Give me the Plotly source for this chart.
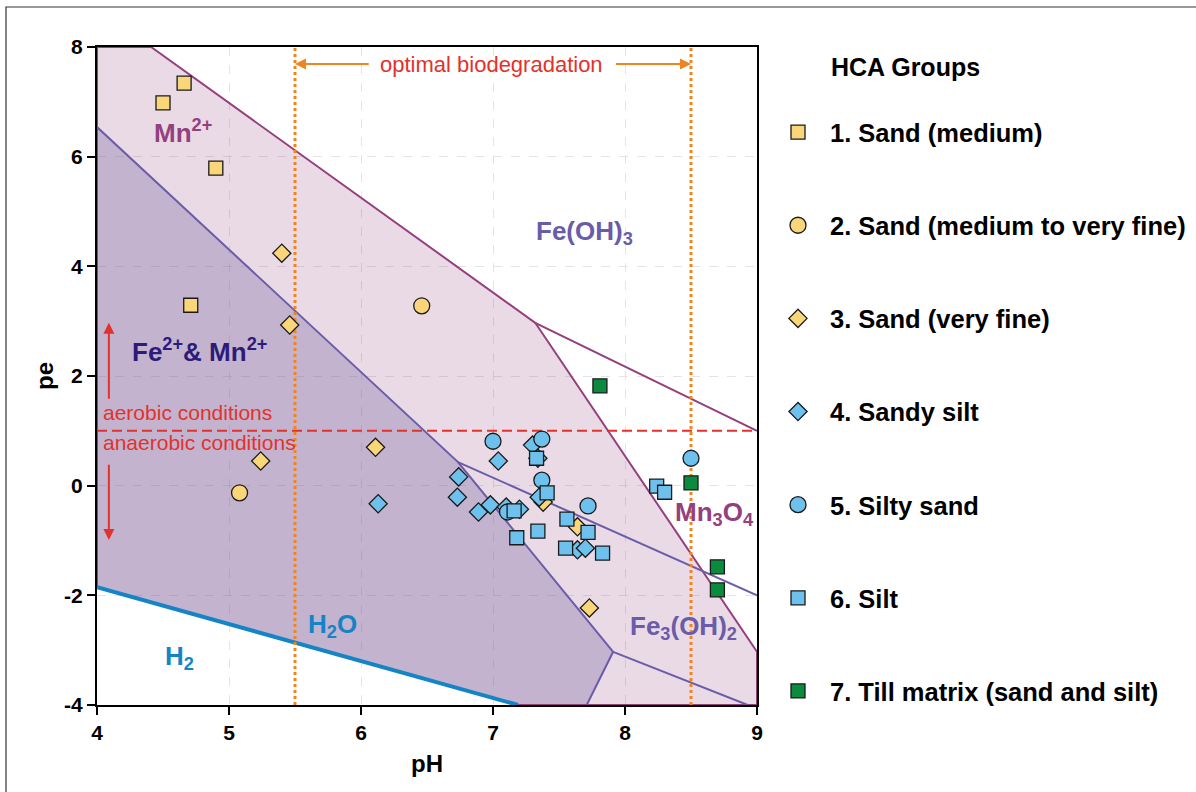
import plotly.graph_objects as go

# ---- sample groups: pH and pe of each sample ----
sand_medium_ph = [4.66, 4.50, 4.90, 4.71]
sand_medium_pe = [7.34, 6.98, 5.79, 3.29]

sand_med_vfine_ph = [6.46, 5.08]
sand_med_vfine_pe = [3.28, -0.13]

sand_vfine_ph = [5.40, 5.46, 5.24, 6.11, 7.73, 7.38, 7.64]
sand_vfine_pe = [4.24, 2.93, 0.45, 0.70, -2.23, -0.30, -0.75]

sandy_silt_ph = [6.13, 6.74, 6.73, 7.04, 6.89, 6.98, 7.10, 7.20, 7.30, 7.34, 7.35, 7.64, 7.70]
sandy_silt_pe = [-0.33, 0.16, -0.21, 0.45, -0.48, -0.35, -0.39, -0.43, 0.74, 0.50, -0.21, -1.17, -1.14]

silty_sand_ph = [7.00, 7.37, 7.37, 7.72, 8.50, 7.11]
silty_sand_pe = [0.81, 0.85, 0.10, -0.37, 0.50, -0.48]

silt_ph = [7.33, 7.41, 7.16, 7.18, 7.34, 7.56, 7.72, 7.55, 7.83, 8.24, 8.30]
silt_pe = [0.50, -0.13, -0.46, -0.95, -0.83, -0.61, -0.85, -1.14, -1.23, -0.01, -0.12]

till_ph = [7.81, 8.50, 8.70, 8.70]
till_pe = [1.82, 0.05, -1.48, -1.90]

group_names = [
    "1. Sand (medium)",
    "2. Sand (medium to very fine)",
    "3. Sand (very fine)",
    "4. Sandy silt",
    "5. Silty sand",
    "6. Silt",
    "7. Till matrix (sand and silt)",
]

# axis ticks
ph_ticks = [4, 5, 6, 7, 8, 9]
pe_ticks = [-4, -2, 0, 2, 4, 6, 8]

# ---- stability field boundaries (pH, pe vertices) ----
mn2_field_ph = [4.0, 4.41, 7.32, 9.0, 9.0, 7.19, 4.0]
mn2_field_pe = [8.0, 8.0, 2.97, -3.03, -4.0, -4.0, -1.85]

fe_mn_field_ph = [4.0, 6.735, 7.91, 7.71, 7.19, 4.0]
fe_mn_field_pe = [6.54, 0.43, -3.03, -4.0, -4.0, -1.85]

mn_upper_ph = [4.41, 7.32, 9.0]
mn_upper_pe = [8.0, 2.97, 1.0]
mn_lower_ph = [7.32, 9.0, 9.0]
mn_lower_pe = [2.97, -3.03, -4.0]

fe_main_ph = [4.0, 6.735, 7.91, 7.71]
fe_main_pe = [6.54, 0.43, -3.03, -4.0]
fe_branch1_ph = [6.735, 9.0]
fe_branch1_pe = [0.43, -2.0]
fe_branch2_ph = [7.91, 8.93]
fe_branch2_pe = [-3.03, -4.0]

water_ph = [4.0, 7.19]
water_pe = [-1.85, -4.0]

biodeg_ph = [5.5, 8.5]
redox_pe = 1.0

MAGENTA = "#94407F"
PURPLE = "#6A5CA8"
NAVY = "#2D1B7A"
BLUE = "#1584C7"
RED = "#E2322B"
ORANGE = "#F0851F"
FONT = "Liberation Sans, Arial, sans-serif"

fig = go.Figure()

# filled fields
fig.add_trace(go.Scatter(x=mn2_field_ph, y=mn2_field_pe, fill="toself", mode="lines",
                         line=dict(width=0), fillcolor="rgba(150,70,130,0.2)",
                         hoverinfo="skip", showlegend=False))
fig.add_trace(go.Scatter(x=fe_mn_field_ph, y=fe_mn_field_pe, fill="toself", mode="lines",
                         line=dict(width=0), fillcolor="rgba(122,105,164,0.35)",
                         hoverinfo="skip", showlegend=False))

# field boundaries
def boundary(xs, ys, color, width):
    fig.add_trace(go.Scatter(x=xs, y=ys, mode="lines", line=dict(color=color, width=width),
                             hoverinfo="skip", showlegend=False))

boundary(mn_upper_ph, mn_upper_pe, MAGENTA, 2)
boundary(mn_lower_ph, mn_lower_pe, MAGENTA, 2)
boundary([7.19, 9.0], [-4.0, -4.0], MAGENTA, 2)
boundary([4.0, 4.0, 4.41], [-1.85, 8.0, 8.0], MAGENTA, 2)
boundary(fe_main_ph, fe_main_pe, PURPLE, 2)
boundary(fe_branch1_ph, fe_branch1_pe, PURPLE, 2)
boundary(fe_branch2_ph, fe_branch2_pe, PURPLE, 2)
boundary(water_ph, water_pe, BLUE, 4)

# aerobic / anaerobic divide
fig.add_trace(go.Scatter(x=[4.0, 9.0], y=[redox_pe, redox_pe], mode="lines",
                         line=dict(color=RED, width=2, dash="10px,5px"),
                         hoverinfo="skip", showlegend=False))
# optimal biodegradation window
for ph in biodeg_ph:
    fig.add_trace(go.Scatter(x=[ph, ph], y=[-4.0, 8.0], mode="lines",
                             line=dict(color=ORANGE, width=3, dash="dot"),
                             hoverinfo="skip", showlegend=False))

# sample groups
YELLOW = "#F9D67A"
LBLUE = "#6EC1EC"
GREEN = "#0B8B3D"
outline = dict(color="#1a1a1a", width=1.3)
groups = [
    (sand_medium_ph, sand_medium_pe, "square", 14, YELLOW),
    (sand_med_vfine_ph, sand_med_vfine_pe, "circle", 16, YELLOW),
    (sand_vfine_ph, sand_vfine_pe, "diamond", 14, YELLOW),
    (sandy_silt_ph, sandy_silt_pe, "diamond", 14, LBLUE),
    (silty_sand_ph, silty_sand_pe, "circle", 16, LBLUE),
    (silt_ph, silt_pe, "square", 14, LBLUE),
    (till_ph, till_pe, "square", 14, GREEN),
]
for i, (xs, ys, sym, size, color) in enumerate(groups):
    fig.add_trace(go.Scatter(
        x=xs, y=ys, mode="markers", name=group_names[i], legendgroup=f"g{i}",
        marker=dict(symbol=sym, size=size, color=color, line=outline),
    ))

annotations = []

def label(x, y, text, color, size=26, bold=True, xanchor="left"):
    annotations.append(dict(
        x=x, y=y, xref="x", yref="y", text=text, showarrow=False,
        xanchor=xanchor, yanchor="middle",
        font=dict(family=FONT, size=size, color=color, weight="bold" if bold else "normal"),
    ))

label(4.42, 6.45, "Mn<sup>2+</sup>", MAGENTA)
label(4.25, 2.47, "Fe<sup>2+</sup>& Mn<sup>2+</sup>", NAVY)
label(7.31, 4.62, "Fe(OH)<sub>3</sub>", PURPLE)
label(8.36, -0.50, "Mn<sub>3</sub>O<sub>4</sub>", MAGENTA)
label(8.02, -2.58, "Fe<sub>3</sub>(OH)<sub>2</sub>", PURPLE)
label(5.58, -2.55, "H<sub>2</sub>O", BLUE)
label(4.50, -3.13, "H<sub>2</sub>", BLUE)
label(4.03, 1.33, "aerobic conditions", RED, size=21, bold=False)
label(4.03, 0.78, "anaerobic conditions", RED, size=21, bold=False)
label(6.99, 7.69, "optimal biodegradation", RED, size=22, bold=False, xanchor="center")

def arrow(x, y, ax, ay, color):
    annotations.append(dict(
        x=x, y=y, ax=ax, ay=ay, xref="x", yref="y", axref="x", ayref="y",
        text="", showarrow=True, arrowhead=2, arrowsize=1.1, arrowwidth=2,
        arrowcolor=color, standoff=0, startstandoff=0,
    ))

arrow(5.5, 7.69, 6.07, 7.69, ORANGE)
arrow(8.5, 7.69, 7.92, 7.69, ORANGE)
arrow(4.09, 2.97, 4.09, 1.56, RED)
arrow(4.09, -0.99, 4.09, 0.41, RED)

# legend heading
annotations.append(dict(
    x=(829 - 97) / 660, y=(705 - 67) / 658, xref="paper", yref="paper",
    text="HCA Groups", showarrow=False, xanchor="left", yanchor="middle",
    font=dict(family=FONT, size=25, color="black", weight="bold"),
))

axis_common = dict(
    showline=True, linecolor="black", linewidth=2, mirror=True,
    ticks="outside", ticklen=8, tickwidth=2, tickcolor="black",
    showgrid=True, gridcolor="#E4E4E4", gridwidth=1, griddash="dash",
    zeroline=False,
    tickfont=dict(family=FONT, size=21, color="black", weight="bold"),
)

fig.update_layout(
    width=1196, height=792,
    margin=dict(l=97, r=439, t=47, b=87, autoexpand=False),
    paper_bgcolor="white", plot_bgcolor="white",
    xaxis=dict(range=[4, 9], tickvals=ph_ticks, ticktext=[str(v) for v in ph_ticks],
               title=dict(text="pH", standoff=12,
                          font=dict(family=FONT, size=24, color="black", weight="bold")),
               **axis_common),
    yaxis=dict(range=[-4, 8], tickvals=pe_ticks, ticktext=[str(v) for v in pe_ticks],
               title=dict(text="pe", standoff=4,
                          font=dict(family=FONT, size=24, color="black", weight="bold")),
               **axis_common),
    legend=dict(
        x=(766 - 97) / 660, y=(705 - 109) / 658, xanchor="left", yanchor="top",
        font=dict(family=FONT, size=25.5, color="black", weight="bold"),
        tracegroupgap=57, itemwidth=54, bgcolor="rgba(0,0,0,0)",
    ),
    annotations=annotations,
    shapes=[dict(type="rect", xref="paper", yref="paper",
                 x0=(6 - 97) / 660, x1=(1300 - 97) / 660,
                 y0=(705 - 900) / 658, y1=(705 - 7) / 658,
                 line=dict(color="#333333", width=1.2), layer="below")],
)

fig.write_html("out.html")
